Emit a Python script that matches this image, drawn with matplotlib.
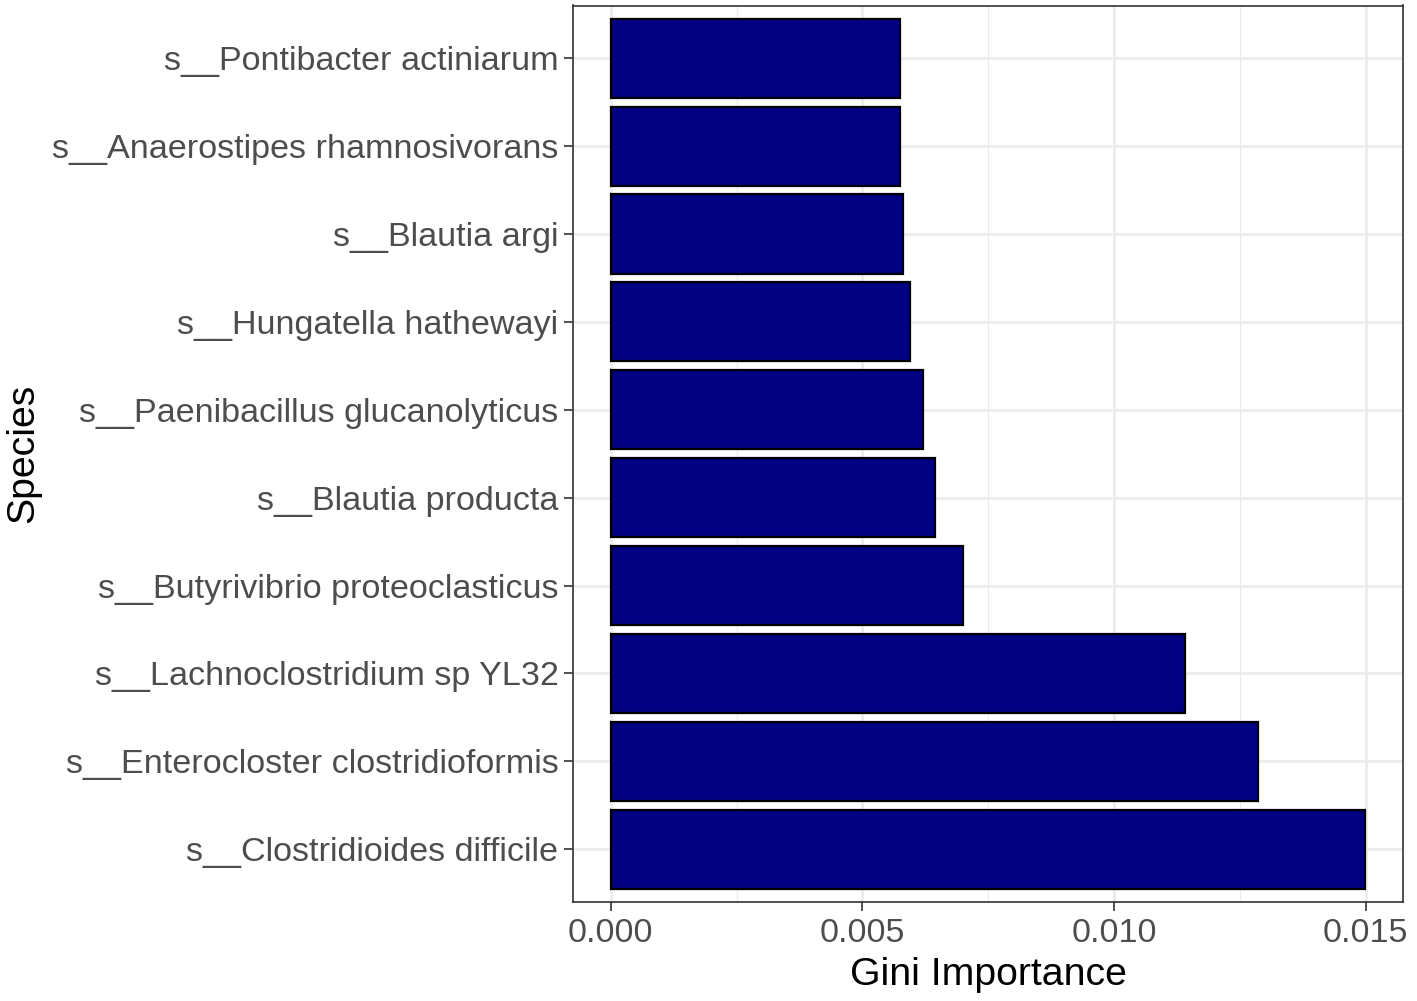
import matplotlib
matplotlib.use("Agg")
import matplotlib.pyplot as plt
from matplotlib.ticker import MultipleLocator

species = [
    "s__Clostridioides difficile",
    "s__Enterocloster clostridioformis",
    "s__Lachnoclostridium sp YL32",
    "s__Butyrivibrio proteoclasticus",
    "s__Blautia producta",
    "s__Paenibacillus glucanolyticus",
    "s__Hungatella hathewayi",
    "s__Blautia argi",
    "s__Anaerostipes rhamnosivorans",
    "s__Pontibacter actiniarum",
]
importance = [0.01499, 0.01285, 0.01140, 0.00700, 0.00644, 0.00620,
              0.00595, 0.00580, 0.00574, 0.00574]
xticks = [0.000, 0.005, 0.010, 0.015]
xtick_labels = ["0.000", "0.005", "0.010", "0.015"]

plt.rcParams['font.family'] = ['Liberation Sans', 'DejaVu Sans']

fig = plt.figure(figsize=(14.17, 10.01), dpi=100)
ax = fig.add_axes([573/1417, 99/1001, (1403-573)/1417, (902-5.5)/1001])

ypos = list(range(len(species)))
ax.barh(ypos, importance, height=0.9, color='#000080', edgecolor='black',
        linewidth=1.6, zorder=3)

xmax = max(importance)
ax.set_xlim(-0.05*xmax, xmax*1.05)
ax.set_ylim(-0.6, len(species) - 0.4)
ax.set_xticks(xticks)
ax.set_xticklabels(xtick_labels)
ax.xaxis.set_minor_locator(MultipleLocator(0.0025))
ax.set_yticks(ypos)
ax.set_yticklabels(species)

ax.grid(True, which='major', color='#EBEBEB', linewidth=1.8, zorder=0)
ax.grid(True, which='minor', axis='x', color='#EBEBEB', linewidth=0.9, zorder=0)
ax.set_axisbelow(True)

for s in ax.spines.values():
    s.set_color('#333333')
    s.set_linewidth(1.2)

ax.tick_params(axis='both', which='major', colors='#333333', labelcolor='#4D4D4D',
               labelsize=24.6, length=6.5, width=1.2)
ax.tick_params(axis='both', which='minor', length=0)
ax.tick_params(axis='x', pad=5)
ax.tick_params(axis='y', pad=4)

ax.set_xlabel("Gini Importance", fontsize=28.3, color='black', labelpad=6)
ax.set_ylabel("Species", fontsize=28.3, color='black', labelpad=8)

fig.savefig("out.png", dpi=100)
